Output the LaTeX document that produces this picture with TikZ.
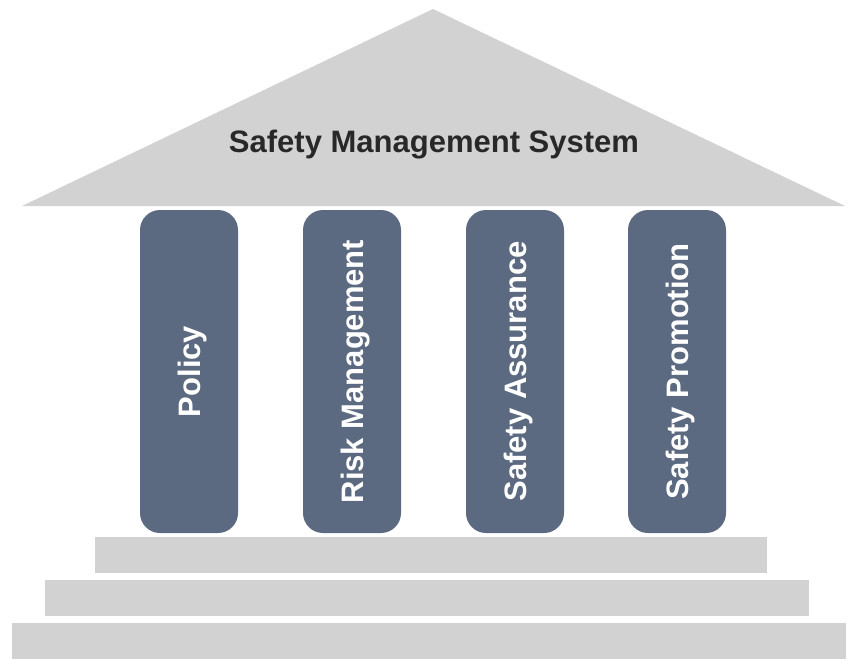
\documentclass[tikz,border=0pt]{standalone}
\usepackage{fontspec}
\setmainfont{Liberation Sans}
\usetikzlibrary{calc,math}
\definecolor{stonegray}{RGB}{210,210,210}
\definecolor{pillarblue}{RGB}{91,105,129}
\definecolor{roofink}{RGB}{40,40,40}

\begin{document}
\begin{tikzpicture}[x=1pt,y=-1pt,
stone/.style={fill=stonegray},
pillar/.style={fill=pillarblue,rounded corners=20pt},
bigtext/.style={font=\fontsize{31}{36}\selectfont\bfseries,inner sep=0pt},
pillartext/.style={bigtext,text=white,rotate=90,anchor=base}]
\useasboundingbox (0,0) rectangle (848,661);
\tikzmath{
\w = 98;
\t = 210;
\b = 533;
\m = (\t+\b)/2;
}
\fill[stone] (22,206) -- (433,9) -- (845,206) -- cycle;
\node[bigtext,anchor=base,text=roofink] (sms) at (434,152) {Safety Management System};
\foreach \px/\name/\lbl in {140/policy/Policy,303/risk/Risk Management,466/assurance/Safety Assurance,628/promotion/Safety Promotion}{
	\fill[pillar] (\px,\t) rectangle (\px+\w,\b);
	\node[pillartext] (\name) at (\px+\w/2+11,\m) {\lbl};
}
\foreach \l/\r/\y in {95/767/537,45/809/580,12/846/623}{
	\fill[stone] (\l,\y) rectangle (\r,\y+36);
}
\end{tikzpicture}
\end{document}
